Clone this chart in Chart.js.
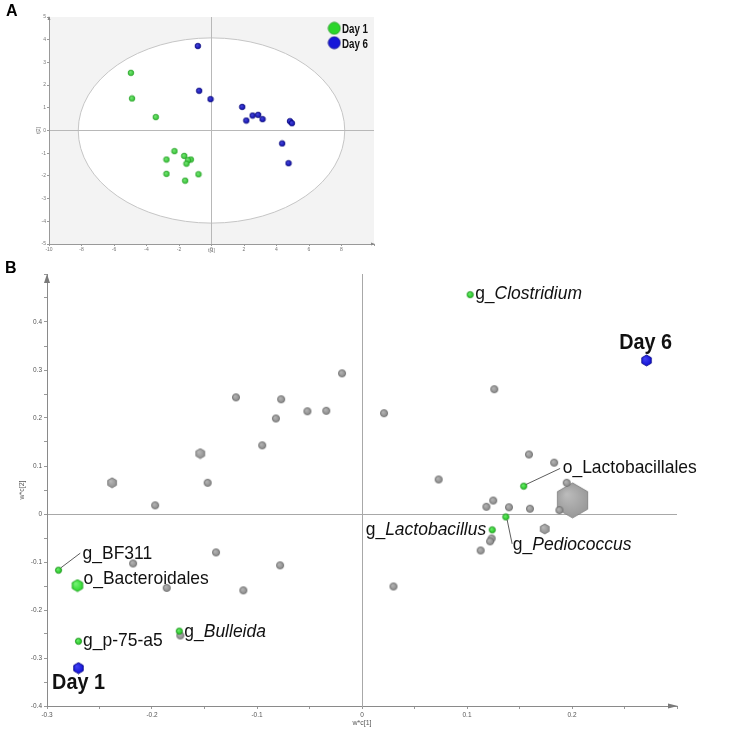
<!DOCTYPE html>
<html>
<head>
<meta charset="utf-8">
<script src="https://cdn.jsdelivr.net/npm/chart.js@4.4.1/dist/chart.umd.min.js"></script>
<style>
  body { margin: 0; background: #fff; }
  #wrap { position: relative; width: 738px; height: 741px; }
  canvas { position: absolute; left: 0; }
</style>
</head>
<body>
<div id="wrap">
  <canvas id="scoreChart" width="380" height="255" style="top:0"></canvas>
  <canvas id="loadingChart" width="738" height="486" style="top:255px"></canvas>
</div>
<script>
// ---- A: score plot t[1] / t[2] ----
const day1X = [-4.96, -4.89, -3.43, -2.28, -2.77, -1.68, -1.27, -1.44, -1.54, -2.77, -0.80, -1.62];
const day1Y = [2.54, 1.41, 0.59, -0.91, -1.28, -1.12, -1.28, -1.31, -1.46, -1.91, -1.93, -2.21];
const day6X = [-0.84, -0.76, -0.06, 1.89, 2.14, 2.53, 2.87, 3.14, 4.83, 4.95, 4.35, 4.74];
const day6Y = [3.72, 1.75, 1.38, 1.04, 0.44, 0.66, 0.69, 0.50, 0.41, 0.32, -0.57, -1.44];
const groupNames = ['Day 1', 'Day 6'];
const ellipseRadii = [8.2, 4.08];   // Hotelling T2 ellipse, t[1] / t[2] units

// ---- B: loading plot w*c[1] / w*c[2] ----
const grayDots = [
  [-0.019, 0.293], [-0.120, 0.243], [-0.077, 0.239], [-0.082, 0.199], [-0.052, 0.214],
  [-0.034, 0.215], [-0.095, 0.143], [-0.147, 0.065], [-0.197, 0.018], [-0.218, -0.103],
  [-0.139, -0.080], [-0.078, -0.107], [-0.186, -0.154], [-0.113, -0.159], [-0.173, -0.253],
  [0.126, 0.260], [0.021, 0.210], [0.159, 0.124], [0.183, 0.107], [0.073, 0.072],
  [0.195, 0.065], [0.125, 0.028], [0.1185, 0.015], [0.140, 0.014], [0.160, 0.011],
  [0.188, 0.008], [0.1235, -0.051], [0.122, -0.057], [0.113, -0.076], [0.030, -0.151]
];
const grayHexSmall = [[-0.238, 0.065], [-0.154, 0.126], [0.174, -0.031]];
const grayHexLarge = [[0.2005, 0.0285]];
const taxaNames = ['g_BF311', 'o_Bacteroidales', 'g_p-75-a5', 'g_Bulleida',
                   'g_Clostridium', 'o_Lactobacillales', 'g_Lactobacillus', 'g_Pediococcus'];
const taxaX = [-0.289, -0.271, -0.270, -0.174, 0.103, 0.154, 0.124, 0.137];
const taxaY = [-0.117, -0.149, -0.265, -0.244, 0.457, 0.058, -0.033, -0.006];
const taxaItalic = [false, false, false, true, true, false, true, true];
const dayX = [-0.270, 0.271];
const dayY = [-0.321, 0.320];

const FONT = '"Liberation Sans", Arial, sans-serif';

// marker sprites (shaded balls / hexagons)
function sprite(r, light, base, edge, hex) {
  const s = Math.ceil(2 * r + 2);
  const c = document.createElement('canvas');
  c.width = c.height = s;
  const g = c.getContext('2d');
  const m = s / 2;
  g.beginPath();
  if (hex) {
    for (let k = 0; k < 6; k++) {
      const a = (k * 60 - 90) * Math.PI / 180;
      g[k ? 'lineTo' : 'moveTo'](m + r * Math.cos(a), m + r * Math.sin(a));
    }
    g.closePath();
  } else {
    g.arc(m, m, r, 0, Math.PI * 2);
  }
  const grad = g.createRadialGradient(m - r * 0.35, m - r * 0.35, 0, m, m, r * 1.1);
  grad.addColorStop(0, light);
  grad.addColorStop(1, base);
  g.fillStyle = grad;
  g.fill();
  g.lineWidth = 0.8;
  g.strokeStyle = edge;
  g.stroke();
  return c;
}

function drawLabel(ctx, text, italic, x, y, align, size, bold, sx) {
  const head = italic ? text.slice(0, 2) : text;
  const rest = italic ? text.slice(2) : '';
  const f1 = (bold ? 'bold ' : '') + size + 'px ' + FONT;
  const f2 = 'italic ' + size + 'px ' + FONT;
  ctx.font = f1;
  const w1 = ctx.measureText(head).width;
  ctx.font = f2;
  const w2 = rest ? ctx.measureText(rest).width : 0;
  const total = w1 + w2;
  const start = align === 'right' ? -total : align === 'center' ? -total / 2 : 0;
  ctx.save();
  ctx.translate(x, y);
  ctx.scale(sx, 1);
  ctx.textAlign = 'left';
  ctx.textBaseline = 'alphabetic';
  ctx.font = f1;
  ctx.fillText(head, start, 0);
  if (rest) {
    ctx.font = f2;
    ctx.fillText(rest, start + w1, 0);
  }
  ctx.restore();
}

function arrowUp(ctx, x, y, w, h) {
  ctx.beginPath();
  ctx.moveTo(x, y);
  ctx.lineTo(x - w / 2, y + h);
  ctx.lineTo(x + w / 2, y + h);
  ctx.closePath();
  ctx.fill();
}
function arrowRight(ctx, x, y, w, h) {
  ctx.beginPath();
  ctx.moveTo(x, y);
  ctx.lineTo(x - h, y - w / 2);
  ctx.lineTo(x - h, y + w / 2);
  ctx.closePath();
  ctx.fill();
}

const zeroOnly = (color) => (c) => (c.tick && c.tick.value === 0 ? color : 'rgba(0,0,0,0)');

// ================= Panel A =================
const scorePlugin = {
  id: 'scoreDecor',
  beforeDraw(chart) {
    const { ctx, chartArea: a, scales: { x, y } } = chart;
    ctx.save();
    ctx.fillStyle = '#f3f3f3';
    ctx.fillRect(a.left, a.top, a.right - a.left, a.bottom - a.top);
    const cx = x.getPixelForValue(0), cy = y.getPixelForValue(0);
    const rx = x.getPixelForValue(ellipseRadii[0]) - cx;
    const ry = cy - y.getPixelForValue(ellipseRadii[1]);
    ctx.beginPath();
    ctx.ellipse(cx, cy, rx, ry, 0, 0, Math.PI * 2);
    ctx.fillStyle = '#fff';
    ctx.fill();
    ctx.strokeStyle = '#c6c6c6';
    ctx.lineWidth = 1;
    ctx.stroke();
    ctx.restore();
  },
  afterDraw(chart) {
    const { ctx, chartArea: a } = chart;
    ctx.save();
    ctx.fillStyle = '#888';
    arrowUp(ctx, a.left, a.top - 1, 3, 4);
    arrowRight(ctx, a.right + 1, a.bottom, 3, 4);
    // legend
    const cols = ['#2ad62a', '#1515d8'];
    const edges = ['#1a9a1a', '#0a0a90'];
    [28.3, 42.7].forEach((yy, i) => {
      ctx.drawImage(sprite(6, cols[i], cols[i], edges[i], false), 334.3 - 7, yy - 7);
      ctx.fillStyle = '#111';
      drawLabel(ctx, groupNames[i], false, 342, yy + 5, 'left', 13, true, 0.75);
    });
    // axis titles
    ctx.fillStyle = '#777';
    ctx.font = '5px ' + FONT;
    ctx.textAlign = 'center';
    ctx.textBaseline = 'middle';
    ctx.fillText('t[1]', (a.left + a.right) / 2, 251);
    ctx.save();
    ctx.translate(39, (a.top + a.bottom) / 2);
    ctx.rotate(-Math.PI / 2);
    ctx.fillText('t[2]', 0, 0);
    ctx.restore();
    // panel letter
    ctx.fillStyle = '#000';
    ctx.font = 'bold 16px ' + FONT;
    ctx.textAlign = 'left';
    ctx.textBaseline = 'alphabetic';
    ctx.fillText('A', 6, 15.5);
    ctx.restore();
  }
};

const greenA = sprite(2.8, '#7be87b', '#2fbf2f', '#23a023', false);
const blueA = sprite(2.8, '#4a4ae0', '#0a0aa8', '#05057a', false);

new Chart(document.getElementById('scoreChart'), {
  type: 'scatter',
  data: {
    datasets: [
      { label: groupNames[0], data: day1X.map((v, i) => ({ x: v, y: day1Y[i] })), pointStyle: greenA },
      { label: groupNames[1], data: day6X.map((v, i) => ({ x: v, y: day6Y[i] })), pointStyle: blueA }
    ]
  },
  options: {
    responsive: false,
    animation: false,
    events: [],
    layout: { autoPadding: false, padding: { top: 17, right: 6, bottom: 0, left: 0 } },
    plugins: { legend: { display: false }, tooltip: { enabled: false } },
    scales: {
      x: {
        type: 'linear', min: -10, max: 10,
        afterFit: (s) => { s.height = 11; },
        ticks: {
          stepSize: 2, autoSkip: false, maxRotation: 0, padding: 1,
          font: { size: 5, family: FONT }, color: '#777',
          callback: (v) => (v === 10 ? '' : String(v))
        },
        grid: { color: zeroOnly('#b8b8b8'), tickColor: '#999', tickLength: 2 },
        border: { color: '#999' }
      },
      y: {
        type: 'linear', min: -5, max: 5,
        afterFit: (s) => { s.width = 49; },
        ticks: {
          stepSize: 1, autoSkip: false, padding: 1,
          font: { size: 5, family: FONT }, color: '#777'
        },
        grid: { color: zeroOnly('#b8b8b8'), tickColor: '#999', tickLength: 2 },
        border: { color: '#999' }
      }
    }
  },
  plugins: [scorePlugin]
});

// ================= Panel B =================
const labelPlacement = {
  'g_BF311':           { dx: 24,  dy: -11, leader: [2.4, -2.4, 21.7, -17] },
  'o_Bacteroidales':   { dx: 6,   dy: -2 },
  'g_p-75-a5':         { dx: 4.5, dy: 5 },
  'g_Bulleida':        { dx: 5,   dy: 6 },
  'g_Clostridium':     { dx: 5,   dy: 4 },
  'o_Lactobacillales': { dx: 39,  dy: -13, leader: [2.4, -1.7, 36.4, -17.7] },
  'g_Lactobacillus':   { dx: -6,  dy: 5, align: 'right' },
  'g_Pediococcus':     { dx: 7,   dy: 33, leader: [1.3, 3, 6.3, 27] },
  'Day 1':             { dx: 0,   dy: 21, align: 'center' },
  'Day 6':             { dx: -1,  dy: -11, align: 'center' }
};
const hexTaxa = ['o_Bacteroidales'];

const loadingPlugin = {
  id: 'loadingDecor',
  afterDatasetsDraw(chart) {
    const { ctx, scales: { x, y } } = chart;
    ctx.save();
    ctx.fillStyle = '#111';
    ctx.strokeStyle = '#333';
    ctx.lineWidth = 0.8;
    taxaNames.forEach((name, i) => {
      const p = labelPlacement[name];
      const px = x.getPixelForValue(taxaX[i]);
      const py = y.getPixelForValue(taxaY[i]);
      if (p.leader) {
        ctx.beginPath();
        ctx.moveTo(px + p.leader[0], py + p.leader[1]);
        ctx.lineTo(px + p.leader[2], py + p.leader[3]);
        ctx.stroke();
      }
      drawLabel(ctx, name, taxaItalic[i], px + p.dx, py + p.dy, p.align || 'left', 19, false, 0.92);
    });
    dayX.forEach((v, i) => {
      const p = labelPlacement[groupNames[i]];
      const px = x.getPixelForValue(v);
      const py = y.getPixelForValue(dayY[i]);
      drawLabel(ctx, groupNames[i], false, px + p.dx, py + p.dy, p.align, 22, true, 0.9);
    });
    ctx.restore();
  },
  afterDraw(chart) {
    const { ctx, chartArea: a } = chart;
    ctx.save();
    ctx.fillStyle = '#7a7a7a';
    arrowUp(ctx, a.left, a.top, 6, 9);
    arrowRight(ctx, a.right + 1, a.bottom, 5, 10);
    ctx.fillStyle = '#555';
    ctx.font = '7px ' + FONT;
    ctx.textAlign = 'center';
    ctx.textBaseline = 'middle';
    ctx.fillText('w*c[1]', (a.left + a.right) / 2, 468);
    ctx.save();
    ctx.translate(22, (a.top + a.bottom) / 2);
    ctx.rotate(-Math.PI / 2);
    ctx.fillText('w*c[2]', 0, 0);
    ctx.restore();
    ctx.fillStyle = '#000';
    ctx.font = 'bold 16px ' + FONT;
    ctx.textAlign = 'left';
    ctx.textBaseline = 'alphabetic';
    ctx.fillText('B', 5, 17.5);
    ctx.restore();
  }
};

const tickFmt = (hide) => (v) => {
  const k = Math.round(v * 100);
  if (k % 10 !== 0 || k === hide) return '';
  return k === 0 ? '0' : (k / 100).toFixed(1);
};

const pts = (arr) => arr.map((p) => ({ x: p[0], y: p[1] }));
const taxaPts = (hex) => taxaNames
  .map((n, i) => ({ n, x: taxaX[i], y: taxaY[i] }))
  .filter((p) => hexTaxa.includes(p.n) === hex)
  .map((p) => ({ x: p.x, y: p.y }));

new Chart(document.getElementById('loadingChart'), {
  type: 'scatter',
  data: {
    datasets: [
      { label: 'scores', data: dayX.map((v, i) => ({ x: v, y: dayY[i] })),
        pointStyle: sprite(5.5, '#4545f5', '#0c0cd0', '#000080', true) },
      { label: 'taxa', data: taxaPts(false),
        pointStyle: sprite(3.1, '#6ff06f', '#1fc21f', '#128a12', false) },
      { label: 'taxa hex', data: taxaPts(true),
        pointStyle: sprite(6, '#7df57d', '#22d322', '#169a16', true) },
      { label: 'gray dots', data: pts(grayDots),
        pointStyle: sprite(3.6, '#b8b8b8', '#878787', '#6a6a6a', false) },
      { label: 'gray hex', data: pts(grayHexSmall),
        pointStyle: sprite(5, '#bbbbbb', '#8a8a8a', '#6e6e6e', true) },
      { label: 'gray hex large', data: pts(grayHexLarge),
        pointStyle: sprite(17.5, '#bdbdbd', '#969696', '#7a7a7a', true) }
    ]
  },
  options: {
    responsive: false,
    animation: false,
    events: [],
    layout: { autoPadding: false, padding: { top: 19, right: 61, bottom: 0, left: 0 } },
    plugins: { legend: { display: false }, tooltip: { enabled: false } },
    scales: {
      x: {
        type: 'linear', min: -0.3, max: 0.3,
        afterFit: (s) => { s.height = 35; },
        ticks: {
          stepSize: 0.05, autoSkip: false, maxRotation: 0, padding: 2,
          font: { size: 6.5, family: FONT }, color: '#555',
          callback: tickFmt(30)
        },
        grid: { color: zeroOnly('#a8a8a8'), tickColor: '#999', tickLength: 3 },
        border: { color: '#8a8a8a' }
      },
      y: {
        type: 'linear', min: -0.4, max: 0.5,
        afterFit: (s) => { s.width = 47; },
        ticks: {
          stepSize: 0.05, autoSkip: false, padding: 2,
          font: { size: 6.5, family: FONT }, color: '#555',
          callback: tickFmt(50)
        },
        grid: { color: zeroOnly('#a8a8a8'), tickColor: '#999', tickLength: 3 },
        border: { color: '#8a8a8a' }
      }
    }
  },
  plugins: [loadingPlugin]
});
</script>
</body>
</html>
